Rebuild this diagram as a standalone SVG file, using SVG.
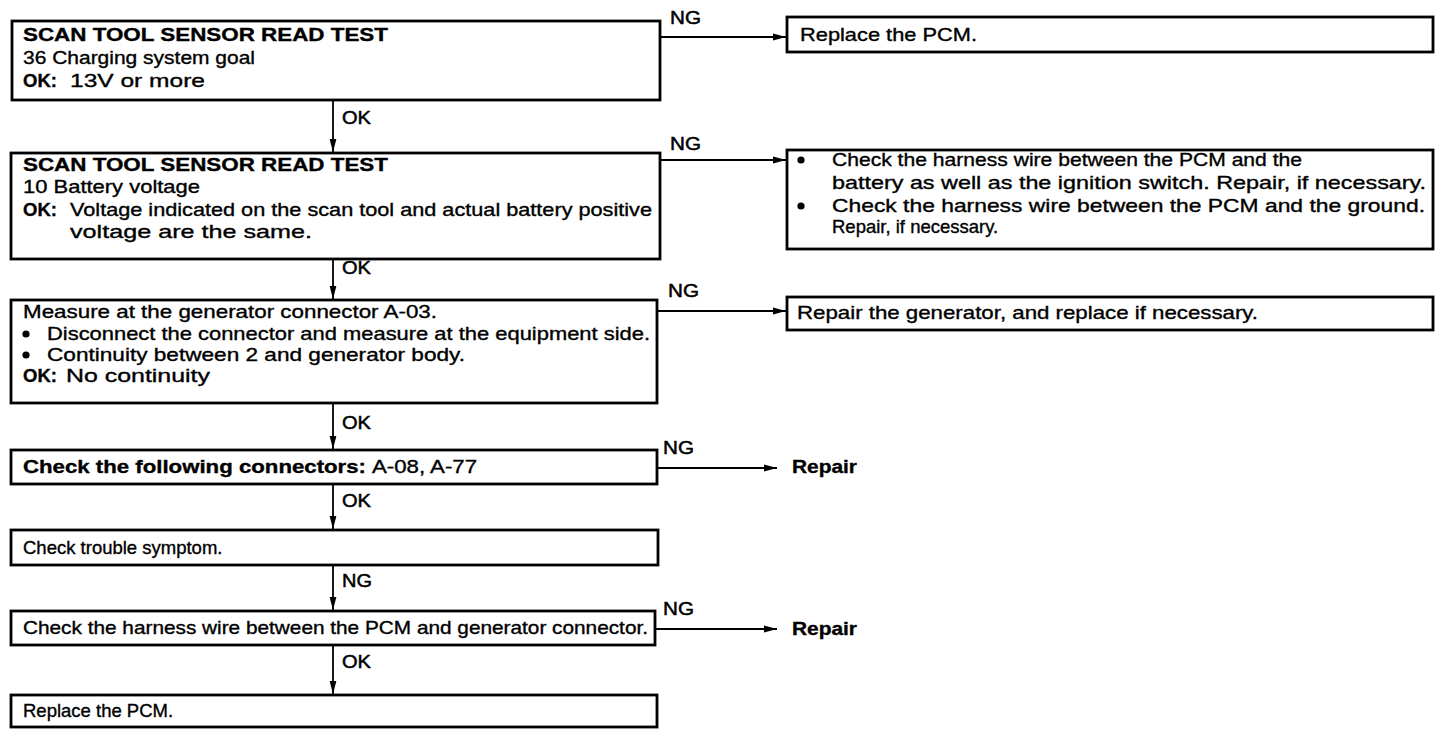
<svg xmlns="http://www.w3.org/2000/svg" width="1440" height="732" viewBox="0 0 1440 732">
<style>
  .box{fill:#fff;stroke:#000;stroke-width:2.8}
  .t{font-family:"Liberation Sans",Arial,sans-serif;font-size:18.5px;fill:#000;stroke:#000;stroke-width:0.35}
  .b{font-weight:bold}
  .lbl{font-family:"Liberation Sans",Arial,sans-serif;font-size:19px;fill:#000;stroke:#000;stroke-width:0.5}
  .c{stroke:#000;stroke-width:1.8;fill:none}
  .dot{fill:#000}
</style>
<defs>
  <marker id="ah" markerUnits="userSpaceOnUse" markerWidth="14" markerHeight="10" refX="13" refY="4" orient="auto">
    <path d="M0,0.6 L13,4 L0,7.4 Z" fill="#000"/>
  </marker>
</defs>
<rect width="1440" height="732" fill="#fff"/>

<g id="connectors">
  <line class="c" x1="660" y1="37" x2="786" y2="37" marker-end="url(#ah)"/>
  <line class="c" x1="660" y1="160" x2="786" y2="160" marker-end="url(#ah)"/>
  <line class="c" x1="657" y1="311" x2="786" y2="311" marker-end="url(#ah)"/>
  <line class="c" x1="657" y1="468" x2="777" y2="468" marker-end="url(#ah)"/>
  <line class="c" x1="655" y1="629" x2="777" y2="629" marker-end="url(#ah)"/>
  <line class="c" x1="333" y1="100" x2="333" y2="152" marker-end="url(#ah)"/>
  <line class="c" x1="333" y1="259" x2="333" y2="299" marker-end="url(#ah)"/>
  <line class="c" x1="333" y1="403" x2="333" y2="449" marker-end="url(#ah)"/>
  <line class="c" x1="333" y1="484" x2="333" y2="529" marker-end="url(#ah)"/>
  <line class="c" x1="333" y1="565" x2="333" y2="610" marker-end="url(#ah)"/>
  <line class="c" x1="333" y1="645" x2="333" y2="694" marker-end="url(#ah)"/>
  <text class="lbl" x="670" y="24" textLength="31" lengthAdjust="spacingAndGlyphs">NG</text>
  <text class="lbl" x="670" y="150" textLength="31" lengthAdjust="spacingAndGlyphs">NG</text>
  <text class="lbl" x="668" y="297" textLength="31" lengthAdjust="spacingAndGlyphs">NG</text>
  <text class="lbl" x="663" y="454" textLength="31" lengthAdjust="spacingAndGlyphs">NG</text>
  <text class="lbl" x="663" y="615" textLength="31" lengthAdjust="spacingAndGlyphs">NG</text>
  <text class="lbl" x="342" y="124" textLength="29" lengthAdjust="spacingAndGlyphs">OK</text>
  <text class="lbl" x="342" y="274" textLength="29" lengthAdjust="spacingAndGlyphs">OK</text>
  <text class="lbl" x="342" y="429" textLength="29" lengthAdjust="spacingAndGlyphs">OK</text>
  <text class="lbl" x="342" y="507" textLength="29" lengthAdjust="spacingAndGlyphs">OK</text>
  <text class="lbl" x="342" y="587" textLength="30" lengthAdjust="spacingAndGlyphs">NG</text>
  <text class="lbl" x="342" y="668" textLength="29" lengthAdjust="spacingAndGlyphs">OK</text>
</g>

<g id="box1">
  <rect class="box" x="12" y="21" width="648" height="79"/>
  <text class="t b" x="23" y="41" textLength="365" lengthAdjust="spacingAndGlyphs">SCAN TOOL SENSOR READ TEST</text>
  <text class="t" x="23" y="64" textLength="232" lengthAdjust="spacingAndGlyphs">36 Charging system goal</text>
  <text class="t b" x="23" y="87">OK:</text>
  <text class="t" x="70" y="87" textLength="135" lengthAdjust="spacingAndGlyphs">13V or more</text>
</g>

<g id="ng1">
  <rect class="box" x="787" y="17" width="646" height="35"/>
  <text class="t" x="800" y="41" textLength="177" lengthAdjust="spacingAndGlyphs">Replace the PCM.</text>
</g>

<g id="box2">
  <rect class="box" x="11" y="153" width="649" height="106"/>
  <text class="t b" x="23" y="171" textLength="365" lengthAdjust="spacingAndGlyphs">SCAN TOOL SENSOR READ TEST</text>
  <text class="t" x="23" y="193" textLength="177" lengthAdjust="spacingAndGlyphs">10 Battery voltage</text>
  <text class="t b" x="23" y="216">OK:</text>
  <text class="t" x="70" y="216" textLength="582" lengthAdjust="spacingAndGlyphs">Voltage indicated on the scan tool and actual battery positive</text>
  <text class="t" x="70" y="238" textLength="242" lengthAdjust="spacingAndGlyphs">voltage are the same.</text>
</g>

<g id="ng2">
  <rect class="box" x="787" y="150" width="646" height="99"/>
  <circle class="dot" cx="801" cy="160" r="3.6"/>
  <text class="t" x="832" y="166" textLength="470" lengthAdjust="spacingAndGlyphs">Check the harness wire between the PCM and the</text>
  <text class="t" x="832" y="189" textLength="594" lengthAdjust="spacingAndGlyphs">battery as well as the ignition switch. Repair, if necessary.</text>
  <circle class="dot" cx="801" cy="206" r="3.6"/>
  <text class="t" x="832" y="212" textLength="593" lengthAdjust="spacingAndGlyphs">Check the harness wire between the PCM and the ground.</text>
  <text class="t" x="832" y="233">Repair, if necessary.</text>
</g>

<g id="box3">
  <rect class="box" x="11" y="300" width="646" height="103"/>
  <text class="t" x="23" y="318" textLength="414" lengthAdjust="spacingAndGlyphs">Measure at the generator connector A-03.</text>
  <circle class="dot" cx="26" cy="334" r="3.6"/>
  <text class="t" x="47" y="340" textLength="603" lengthAdjust="spacingAndGlyphs">Disconnect the connector and measure at the equipment side.</text>
  <circle class="dot" cx="26" cy="355" r="3.6"/>
  <text class="t" x="47" y="361" textLength="418" lengthAdjust="spacingAndGlyphs">Continuity between 2 and generator body.</text>
  <text class="t b" x="23" y="382">OK:</text>
  <text class="t" x="66" y="382" textLength="144" lengthAdjust="spacingAndGlyphs">No continuity</text>
</g>

<g id="ng3">
  <rect class="box" x="787" y="297" width="646" height="33"/>
  <text class="t" x="797" y="319" textLength="461" lengthAdjust="spacingAndGlyphs">Repair the generator, and replace if necessary.</text>
</g>

<g id="box4">
  <rect class="box" x="11" y="450" width="646" height="34"/>
  <text class="t b" x="23" y="473" textLength="343" lengthAdjust="spacingAndGlyphs">Check the following connectors:</text>
  <text class="t" x="372" y="473" textLength="105" lengthAdjust="spacingAndGlyphs">A-08, A-77</text>
</g>

<g id="ng4">
  <text class="t b" x="792" y="473" textLength="65" lengthAdjust="spacingAndGlyphs">Repair</text>
</g>

<g id="box5">
  <rect class="box" x="11" y="530" width="647" height="35"/>
  <text class="t" x="23" y="554">Check trouble symptom.</text>
</g>

<g id="box6">
  <rect class="box" x="11" y="611" width="644" height="34"/>
  <text class="t" x="23" y="634" textLength="625" lengthAdjust="spacingAndGlyphs">Check the harness wire between the PCM and generator connector.</text>
</g>

<g id="ng6">
  <text class="t b" x="792" y="635" textLength="65" lengthAdjust="spacingAndGlyphs">Repair</text>
</g>

<g id="box7">
  <rect class="box" x="11" y="695" width="646" height="32"/>
  <text class="t" x="23" y="717">Replace the PCM.</text>
</g>
</svg>
